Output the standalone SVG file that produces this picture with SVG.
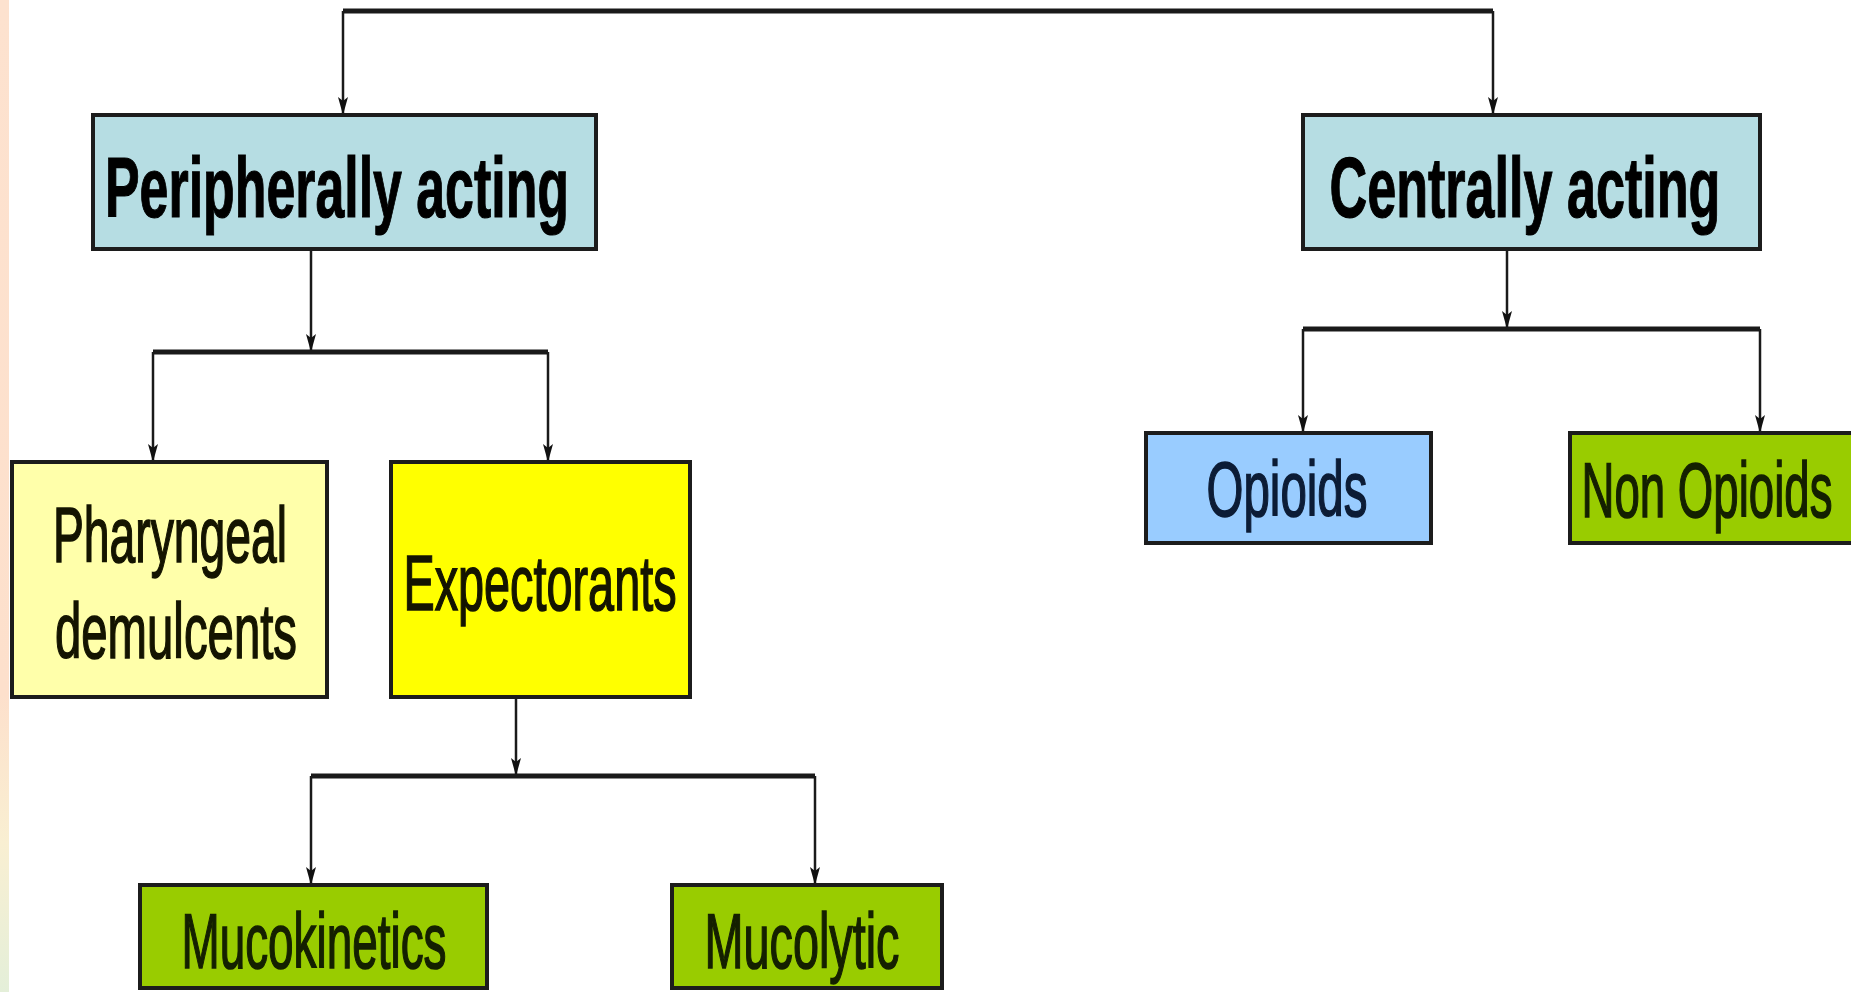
<svg xmlns="http://www.w3.org/2000/svg" width="1851" height="992" viewBox="0 0 1851 992">
<defs>
<linearGradient id="strip" x1="0" y1="0" x2="0" y2="1">
<stop offset="0" stop-color="#fde2cf"/>
<stop offset="0.7" stop-color="#fde0cc"/>
<stop offset="0.85" stop-color="#f9efd2"/>
<stop offset="1" stop-color="#e4efd9"/>
</linearGradient>
<marker id="arr" viewBox="0 0 18 10" refX="18" refY="5" markerWidth="18" markerHeight="10" markerUnits="userSpaceOnUse" orient="auto">
<path d="M0,0 L18,5 L0,10 L4,5 z" fill="#111"/>
</marker>
<style>
.box{stroke:#1c1c1c;stroke-width:4}
.hd{font-family:"Liberation Sans",Arial,sans-serif;font-weight:bold;font-size:86px;fill:#000;stroke:#000;stroke-width:1.2;text-anchor:middle}
.lb{font-family:"Liberation Sans",Arial,sans-serif;font-size:78px;stroke-width:1.6;text-anchor:middle}
.h{stroke:#1a1a1a;stroke-width:5;fill:none}
.va{stroke:#1a1a1a;stroke-width:2.5;fill:none;marker-end:url(#arr)}
</style>
</defs>
<rect x="0" y="0" width="1851" height="992" fill="#ffffff"/>
<rect x="0" y="0" width="9" height="992" fill="url(#strip)"/>

<g id="connectors">
<path class="h" d="M343,11 H1493"/>
<path class="va" d="M343,11 V115"/>
<path class="va" d="M1493,11 V115"/>
<path class="va" d="M311,249 V352"/>
<path class="h" d="M153,352 H548"/>
<path class="va" d="M153,352 V462"/>
<path class="va" d="M548,352 V462"/>
<path class="va" d="M1507,249 V329"/>
<path class="h" d="M1303,329 H1760"/>
<path class="va" d="M1303,329 V433"/>
<path class="va" d="M1760,329 V433"/>
<path class="va" d="M516,697 V776"/>
<path class="h" d="M311,776 H815"/>
<path class="va" d="M311,776 V885"/>
<path class="va" d="M815,776 V885"/>
</g>

<g id="peripherally">
<rect class="box" x="93" y="115" width="503" height="134" fill="#b6dde3"/>
<text class="hd" transform="translate(337,217) scale(0.603,1)">Peripherally acting</text>
</g>
<g id="centrally">
<rect class="box" x="1303" y="115" width="457" height="134" fill="#b6dde3"/>
<text class="hd" transform="translate(1525,217) scale(0.606,1)">Centrally acting</text>
</g>
<g id="pharyngeal">
<rect class="box" x="12" y="462" width="315" height="235" fill="#ffffaa"/>
<text class="lb" fill="#141400" stroke="#141400" transform="translate(170,562) scale(0.593,1)">Pharyngeal</text>
<text class="lb" fill="#141400" stroke="#141400" transform="translate(176,658) scale(0.607,1)">demulcents</text>
</g>
<g id="expectorants">
<rect class="box" x="391" y="462" width="299" height="235" fill="#ffff00"/>
<text class="lb" fill="#141400" stroke="#141400" transform="translate(540,610) scale(0.6,1)">Expectorants</text>
</g>
<g id="opioids">
<rect class="box" x="1146" y="433" width="285" height="110" fill="#99ccff"/>
<text class="lb" fill="#0c1c36" stroke="#0c1c36" transform="translate(1287,516) scale(0.609,1)">Opioids</text>
</g>
<g id="nonopioids">
<rect class="box" x="1570" y="433" width="300" height="110" fill="#99cc00"/>
<text class="lb" fill="#142000" stroke="#142000" transform="translate(1707,517) scale(0.585,1)">Non Opioids</text>
</g>
<g id="mucokinetics">
<rect class="box" x="140" y="885" width="347" height="103" fill="#99cc00"/>
<text class="lb" fill="#142000" stroke="#142000" transform="translate(314,968) scale(0.588,1)">Mucokinetics</text>
</g>
<g id="mucolytic">
<rect class="box" x="672" y="885" width="270" height="103" fill="#99cc00"/>
<text class="lb" fill="#142000" stroke="#142000" transform="translate(802,968) scale(0.6,1)">Mucolytic</text>
</g>
</svg>
